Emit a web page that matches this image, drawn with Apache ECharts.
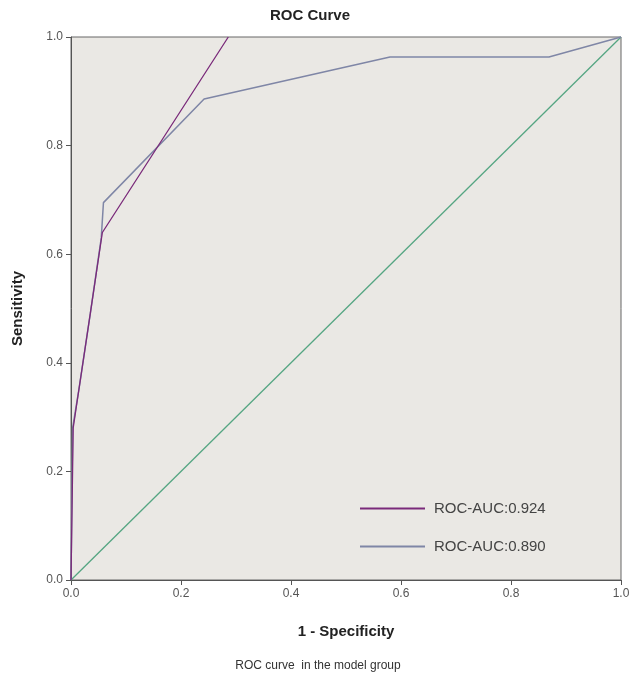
<!DOCTYPE html>
<html>
<head>
<meta charset="utf-8">
<script src="https://cdn.jsdelivr.net/npm/echarts@6/dist/echarts.min.js"></script>
<style>html,body{margin:0;padding:0;background:#fff;}#c{width:636px;height:688px;}</style>
</head>
<body>
<div id="c"></div>
<script>
// Series values (1 - Specificity, Sensitivity)
const purpleX = [0, 0.004, 0.015, 0.035, 0.057, 0.286];
const purpleY = [0, 0.28, 0.355, 0.49, 0.64, 1.0];
const greyX = [0, 0.003, 0.015, 0.035, 0.055, 0.059, 0.242, 0.58, 0.869, 1.0];
const greyY = [0, 0.28, 0.355, 0.49, 0.63, 0.695, 0.886, 0.963, 0.963, 1.0];
const diagX = [0, 1];
const diagY = [0, 1];
const seriesNames = ['ROC-AUC:0.924', 'ROC-AUC:0.890'];
const tickValues = [0, 0.2, 0.4, 0.6, 0.8, 1.0];

const zip = (xs, ys) => xs.map((x, i) => [x, ys[i]]);
const chart = echarts.init(document.getElementById('c'));
const axisCommon = {
  type: 'value', min: tickValues[0], max: tickValues[tickValues.length - 1], interval: 0.2,
  axisLine: { show: true, lineStyle: { color: '#555', width: 1 } },
  axisTick: { show: true, inside: false, length: 5, lineStyle: { color: '#555' } },
  axisLabel: { color: '#555', fontSize: 12, fontFamily: 'Arial, Liberation Sans', formatter: v => v.toFixed(1) },
  splitLine: { show: false },
  nameLocation: 'middle',
  nameTextStyle: { fontWeight: 'bold', fontSize: 15, color: '#222', fontFamily: 'Arial, Liberation Sans' }
};
chart.setOption({
  animation: false,
  title: { text: 'ROC Curve', left: 305, top: 3, textAlign: 'center',
    textStyle: { fontSize: 15, fontWeight: 'bold', color: '#222', fontFamily: 'Arial, Liberation Sans' } },
  grid: { left: 71, right: 15, top: 37, bottom: 108, show: true, backgroundColor: '#eae8e4', borderColor: '#666', borderWidth: 1 },
  xAxis: Object.assign({}, axisCommon, { name: '1 - Specificity', nameGap: 44, axisLabel: Object.assign({}, axisCommon.axisLabel, { margin: 8 }) }),
  yAxis: Object.assign({}, axisCommon, { name: 'Sensitivity', nameGap: 46, axisLabel: Object.assign({}, axisCommon.axisLabel, { margin: 8 }) }),
  legend: {
    data: seriesNames, orient: 'vertical', left: 355, top: 496, itemGap: 23,
    itemWidth: 65, itemHeight: 2, icon: 'rect',
    textStyle: { fontSize: 15, color: '#444', fontFamily: 'Arial, Liberation Sans', padding: [0, 0, 0, 4] }
  },
  graphic: [{ type: 'text', left: 'center', top: 660, style: { text: 'ROC curve  in the model group', fontSize: 12, fill: '#333', fontFamily: 'Arial, Liberation Sans', x: -9 } }],
  series: [
    { name: 'diag', type: 'line', data: zip(diagX, diagY), symbol: 'none', lineStyle: { color: '#55a582', width: 1.3 }, z: 1, silent: true },
    { name: seriesNames[1], type: 'line', data: zip(greyX, greyY), symbol: 'none', itemStyle: { color: '#7f86a6' }, lineStyle: { color: '#7f86a6', width: 1.5 }, z: 2 },
    { name: seriesNames[0], type: 'line', data: zip(purpleX, purpleY), symbol: 'none', itemStyle: { color: '#7a2a7a' }, lineStyle: { color: '#7a2a7a', width: 1.3 }, z: 3 }
  ]
});
</script>
</body>
</html>
